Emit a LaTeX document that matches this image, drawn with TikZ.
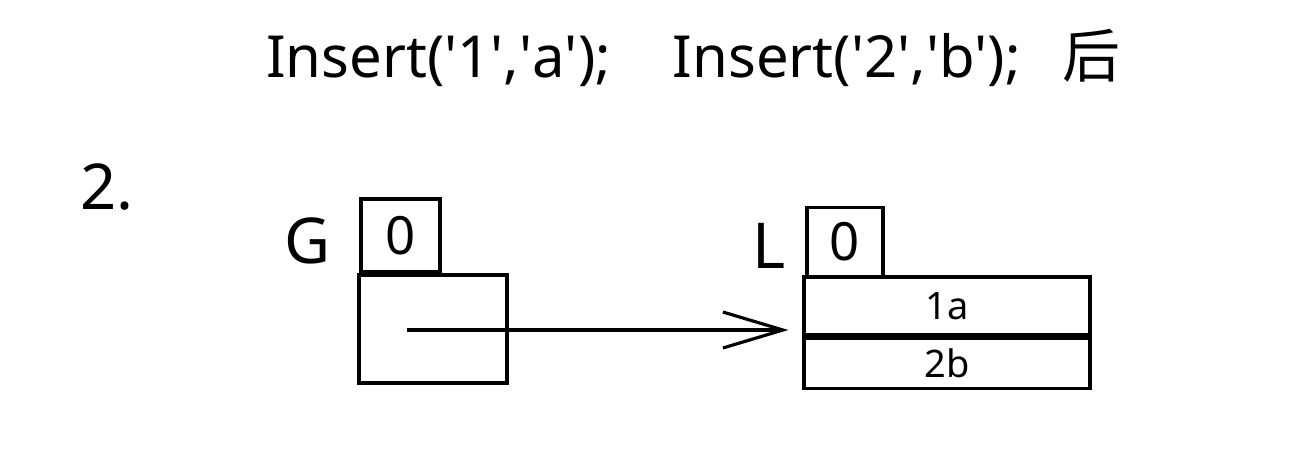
\documentclass[tikz,border=0pt]{standalone}
\usepackage{fontspec}
\setmainfont{Noto Sans}
\newfontfamily\cjk{Noto Sans CJK SC}
\usetikzlibrary{arrows.meta,positioning}
\newcommand\sq{\textquotesingle}

\begin{document}
\begin{tikzpicture}[>={Straight Barb[length=0.6cm,width=0.36cm]},
  cell/.style={draw,line width=0.9pt,inner sep=0pt},
  big/.style={font=\fontsize{16.5}{20}\selectfont},
  tag/.style={font=\fontsize{18}{21}\selectfont}]
\useasboundingbox (0,0) rectangle (13,4.52);
\node[big] (title) at (6.935,3.94) {Insert(\sq1\sq,\sq a\sq);\hspace{0.62cm}Insert(\sq2\sq,\sq b\sq);\hspace{0.42cm}{\cjk 后}};
\node[tag] (num) at (1.07,2.65) {2.};
% G
\node[tag] (gname) at (3.08,2.11) {G};
\node[cell,minimum width=0.79cm,minimum height=0.73cm,font=\fontsize{15}{18}\selectfont] (g0) at (4.005,2.165) {0};
\node[cell,minimum width=1.48cm,minimum height=1.08cm] (gbox) at (4.33,1.23) {};
\coordinate (gsrc) at (4.07,1.22);
% L
\node[tag] (lname) at (7.69,2.06) {L};
\node[cell,minimum width=0.76cm,minimum height=0.69cm,font=\fontsize{15}{18}\selectfont] (l0) at (8.45,2.10) {0};
\node[cell,minimum width=2.86cm,minimum height=0.58cm,font=\fontsize{10.8}{13}\selectfont] (r1) at (9.47,1.46) {1a};
\node[cell,minimum width=2.86cm,minimum height=0.50cm,font=\fontsize{10.8}{13}\selectfont,below=0pt of r1] (r2) {2b};
\draw[->,line width=0.9pt,shorten >=0.14cm] (gsrc) -- (gsrc -| r1.west);
\end{tikzpicture}
\end{document}
